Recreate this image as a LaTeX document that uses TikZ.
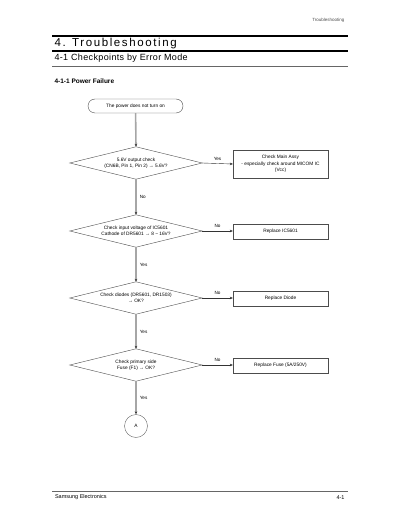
\documentclass[tikz,border=0pt]{standalone}
\usepackage{fontspec}
\setmainfont{Liberation Sans}
\newfontfamily\titlefont[LetterSpace=14]{Liberation Sans}
\newfontfamily\subtitlefont[LetterSpace=4]{Liberation Sans}
\usetikzlibrary{arrows.meta}
\begin{document}
\begin{tikzpicture}[x=1pt,y=-1pt,
  fc/.style={font=\fontsize{4.8}{6.4}\selectfont, align=center, inner sep=0pt},
  procbox/.style={fc, draw=black!70, line width=0.4pt, minimum width=95pt},
  decbox/.style={fc, minimum width=132pt, minimum height=32pt},
  dia/.style={draw=black!70, line width=0.4pt},
  vline/.style={draw=black!35, line width=1.6pt, -{Stealth[length=3pt,width=2.6pt,color=black!80]}},
  hline/.style={draw=black!80, line width=0.4pt, -{Stealth[length=3pt,width=2.6pt]}},
  lbl/.style={font=\fontsize{4.6}{5}\selectfont, inner sep=0pt}]
\useasboundingbox (0,0) rectangle (400,518);

% header
\node[anchor=east, font=\fontsize{4.5}{5}\selectfont, text=black!70] (hdr) at (348,20) {Troubleshooting};
\draw[line width=1.5pt] (52,36) -- (348,36);
\node[anchor=west, font=\titlefont\fontsize{11.5}{12}\selectfont] (t1) at (51,44) {4. Troubleshooting};
\draw[line width=1.5pt] (52,51) -- (348,51);
\node[anchor=west, font=\subtitlefont\fontsize{9}{10}\selectfont] (t2) at (51,58.5) {4-1 Checkpoints by Error Mode};
\draw[line width=1pt, black!60] (52,66.5) -- (348,66.5);
\node[anchor=west, font=\bfseries\fontsize{6.5}{7}\selectfont] (t3) at (51,81.5) {4-1-1 Power Failure};

% flowchart nodes
\node[fc, draw=black!70, line width=0.4pt, rounded corners=7pt, minimum width=95pt, minimum height=14pt] (start) at (135.5,106) {The power does not turn on};

\node[decbox] (d1) at (136,163) {5.6V output check\\(CN6B, Pin 1, Pin 2) → 5.6V?};
\draw[dia] (d1.north) -- (d1.east) -- (d1.south) -- (d1.west) -- cycle;
\node[procbox, minimum height=28pt] (b1) at (280.5,164) {Check Main Assy\\- especially check around MICOM IC\\(Vcc)};

\node[decbox] (d2) at (136,231) {Check input voltage of IC5601\\Cathode of DR5601 → 8 \textasciitilde{} 16V?};
\draw[dia] (d2.north) -- (d2.east) -- (d2.south) -- (d2.west) -- cycle;
\node[procbox, minimum height=15pt] (b2) at (280.5,231.5) {Replace IC5601};

\node[decbox] (d3) at (136,298) {Check diodes (DR5601, DR1503)\\→ OK?};
\draw[dia] (d3.north) -- (d3.east) -- (d3.south) -- (d3.west) -- cycle;
\node[procbox, minimum height=15pt] (b3) at (280.5,298.5) {Replace Diode};

\node[decbox] (d4) at (136,365) {Check primary side\\Fuse (F1) → OK?};
\draw[dia] (d4.north) -- (d4.east) -- (d4.south) -- (d4.west) -- cycle;
\node[procbox, minimum height=15pt] (b4) at (280.5,365.5) {Replace Fuse (5A/250V)};

\node[fc, circle, draw=black!60, line width=0.4pt, minimum size=23pt] (A) at (136,426) {A};

% connectors
\draw[vline] (start) -- (d1.north);
\draw[hline] (d1.east) -- (b1.west) node[lbl, midway, above=3pt] {Yes};
\draw[vline] (d1.south) -- (d2.north) node[lbl, midway, right=3pt] {No};
\draw[hline] (d2.east) -- (b2.west |- d2.east) node[lbl, midway, above=3pt] {No};
\draw[vline] (d2.south) -- (d3.north) node[lbl, midway, right=3pt] {Yes};
\draw[hline] (d3.east) -- (b3.west |- d3.east) node[lbl, midway, above=3pt] {No};
\draw[vline] (d3.south) -- (d4.north) node[lbl, midway, right=3pt] {Yes};
\draw[hline] (d4.east) -- (b4.west |- d4.east) node[lbl, midway, above=3pt] {No};
\draw[vline] (d4.south) -- (A.north) node[lbl, midway, right=3pt] {Yes};

% footer
\draw[black!60, line width=0.8pt] (52,491) -- (348,491);
\node[anchor=west, font=\fontsize{5.5}{6}\selectfont] (f1) at (51.5,497.5) {Samsung Electronics};
\node[anchor=east, font=\fontsize{5.5}{6}\selectfont] (f2) at (348,497.5) {4-1};
\end{tikzpicture}
\end{document}
